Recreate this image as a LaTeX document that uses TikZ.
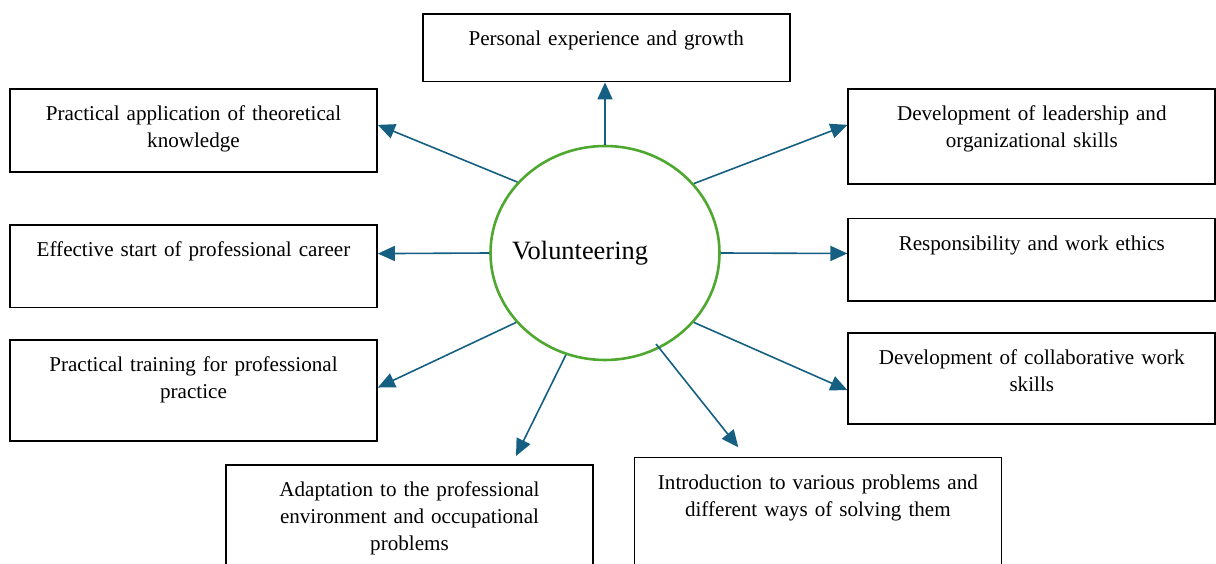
\documentclass[tikz,border=0pt]{standalone}
\usepackage{fontspec}
\setmainfont{Liberation Serif}
\usetikzlibrary{arrows.meta,shapes.geometric}
\definecolor{arrowblue}{HTML}{156082}
\definecolor{circgreen}{HTML}{4EA72E}
\tikzset{
  infobox/.style={draw=black, line width=1.7pt, fill=white, anchor=north,
    inner xsep=5pt, inner ysep=0pt, text width=357pt, align=center,
    font=\fontsize{21.1pt}{27pt}\selectfont, text height=31.5pt},
  link/.style={draw=arrowblue, line width=1.6pt,
    -{Triangle[length=17pt,width=15pt]}},
}
\begin{document}
\begin{tikzpicture}[x=1pt,y=-1pt]
\useasboundingbox (0,0) rectangle (1216,564);
\clip (0,0) rectangle (1216,564);

\node[draw=circgreen, line width=2.6pt, ellipse, minimum width=229pt,
  minimum height=214pt, inner sep=0pt, font=\fontsize{26.4pt}{30pt}\selectfont]
  (vol) at (605,253) {\makebox[0pt]{\hskip-50pt Volunteering}};

\node[infobox, text depth=67.7pt-31.5pt] (top) at (606.2,13) {Personal experience and growth};
\node[infobox, text depth=83pt-31.5pt] (L1) at (193.5,88) {Practical application of theoretical\\knowledge};
\node[infobox, text depth=82.7pt-31.5pt] (L2) at (193.5,224) {Effective start of professional career};
\node[infobox, text depth=101pt-31.5pt] (L3) at (193.5,339) {Practical training for professional\\practice};
\node[infobox, text depth=95pt-31.5pt] (R1) at (1031.8,88) {Development of leadership and\\organizational skills};
\node[infobox, text depth=82.3pt-31.5pt] (R2) at (1031.8,217.7) {Responsibility and work ethics};
\node[infobox, text depth=91pt-31.5pt] (R3) at (1031.8,332) {Development of collaborative work\\skills};
\node[infobox, text depth=130pt] (BL) at (409.5,464) {Adaptation to the professional\\environment and occupational\\problems};
\node[infobox, text depth=130pt] (BR) at (817.9,456.7) {Introduction to various problems and\\different ways of solving them};

\coordinate (tBL) at (516,456);
\coordinate (tBR) at (738.3,447.3);

\draw[link] (vol.north) -- (vol.north |- top.south);
\draw[link] (vol.141.5) -- ([yshift=5.5pt]L1.east);
\draw[link] (vol.180) -- ([yshift=12.6pt]L2.east);
\draw[link] (vol.218.2) -- ([yshift=2.8pt]L3.east);
\draw[link] (vol.249.2) -- (tBL);
\draw[link] ([shift={(51pt,-91pt)}]vol.center) -- (tBR);
\draw[link] (vol.38) -- ([yshift=11.5pt]R1.west);
\draw[link] (vol.0) -- ([yshift=6.2pt]R2.west);
\draw[link] (vol.-38.3) -- ([yshift=-11.8pt]R3.west);
\end{tikzpicture}
\end{document}
